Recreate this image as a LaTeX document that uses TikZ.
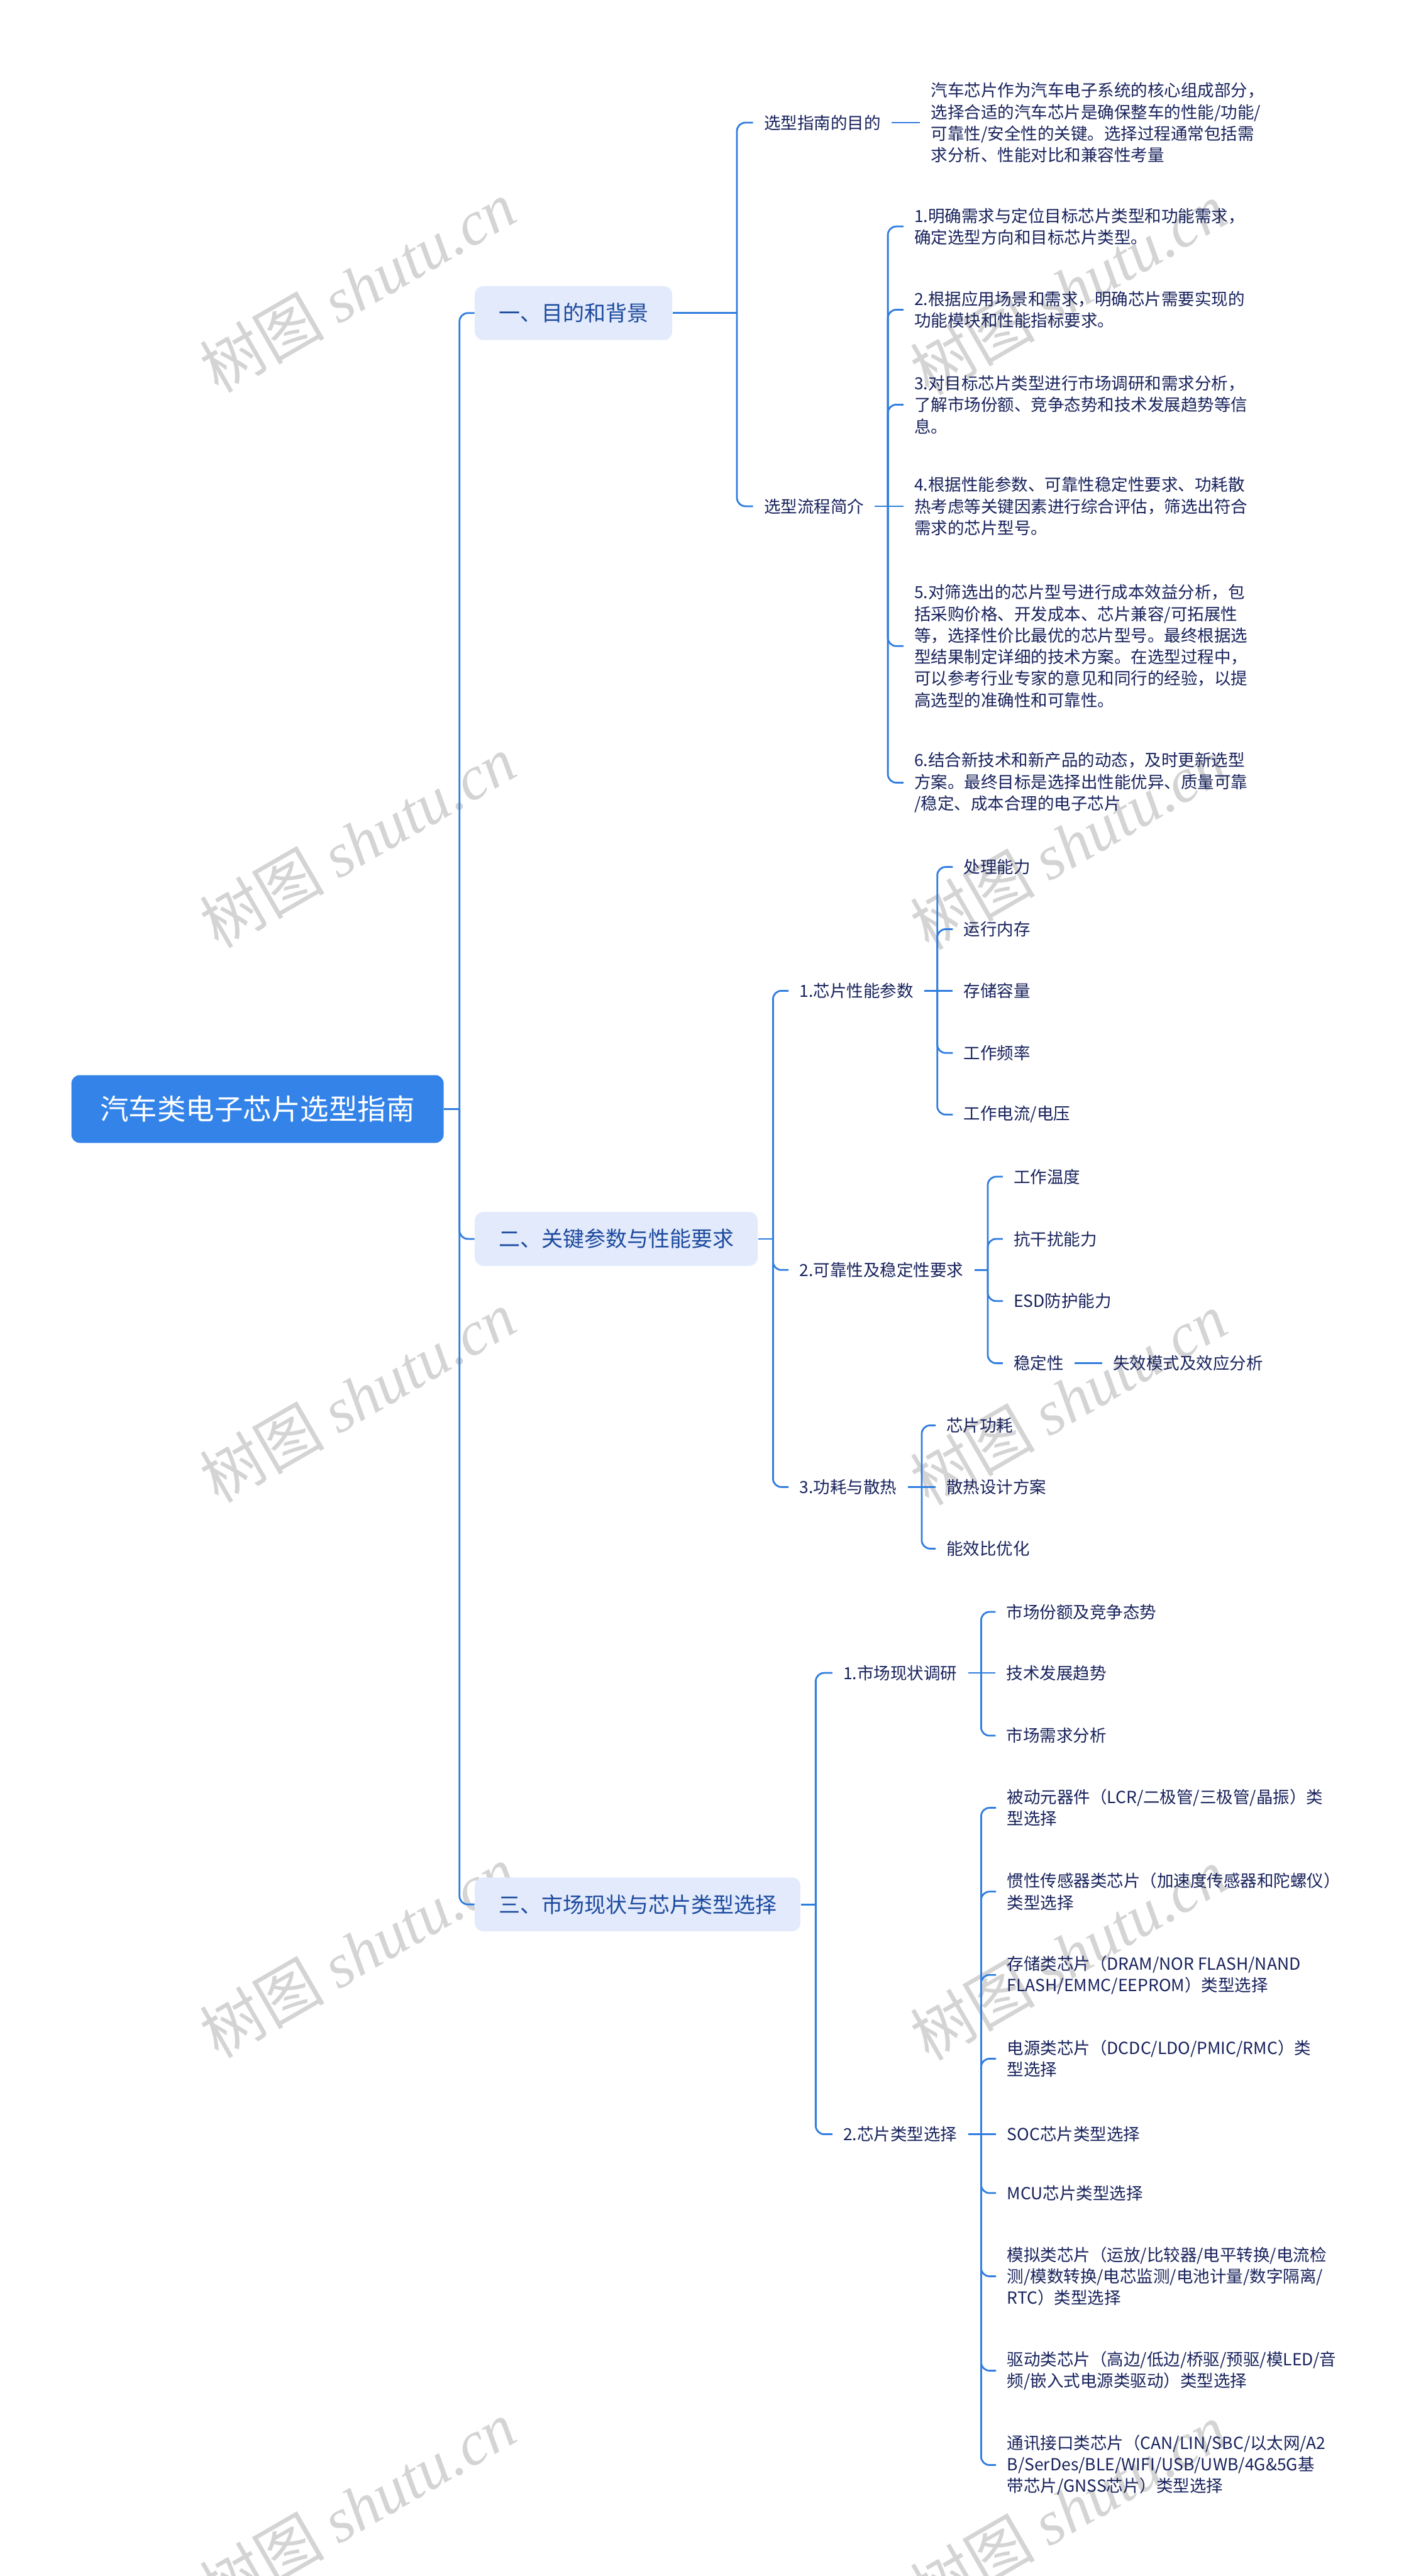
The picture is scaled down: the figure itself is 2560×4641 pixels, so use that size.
\documentclass[tikz,border=0pt]{standalone}
\usepackage{fontspec}
\setmainfont{Noto Sans CJK SC}
\newfontfamily\markserif{Liberation Serif}

\definecolor{linkblue}{RGB}{47,125,223}
\definecolor{rootblue}{RGB}{51,131,233}
\definecolor{secfill}{RGB}{226,234,251}
\definecolor{sectext}{RGB}{28,74,158}
\definecolor{leaftext}{RGB}{24,34,92}
\definecolor{markgray}{RGB}{212,212,212}

\newcommand{\rootfont}{\fontsize{14.65pt}{17pt}\selectfont}
\newcommand{\secfont}{\fontsize{10.95pt}{13pt}\selectfont}
\newcommand{\leaffont}{\fontsize{8.54pt}{11.04pt}\selectfont}
\newcommand{\markfont}{\fontsize{32pt}{36pt}\selectfont}

\begin{document}
\begin{tikzpicture}[
    x=0.01cm, y=-0.01cm,
    root_style/.style={rectangle, rounded corners=0.15cm, fill=rootblue, text=white, font=\rootfont,
        minimum height=1.22cm, inner xsep=0.52cm, anchor=west},
    section_style/.style={rectangle, rounded corners=0.15cm, fill=secfill, text=sectext, font=\secfont,
        minimum height=0.97cm, inner xsep=0.43cm, anchor=west},
    leaf_style/.style={font=\leaffont, text=leaftext, align=left, inner xsep=0.19cm, inner ysep=0pt, anchor=west},
    link_style/.style={draw=linkblue, line width=0.9pt, rounded corners=0.15cm},
    mark_style/.style={text=markgray, font=\markfont, rotate=30}
]
\useasboundingbox[fill=white] (0,0) rectangle (2560,4641);

% watermarks
\foreach \wx/\wy [count=\i] in {644/516,644/1516,644/2516,644/3516,644/4516,1925/520,1925/1520,1925/2520,1925/3520,1925/4520}
    \node[mark_style] (wm\i) at (\wx,\wy) {树图 {\markserif\itshape shutu.cn}};

% root and sections
\node[root_style] (root) at (128,1998) {汽车类电子芯片选型指南};
\node[section_style] (b1) at (855,564) {一、目的和背景};
\node[section_style] (b2) at (855,2232) {二、关键参数与性能要求};
\node[section_style] (b3) at (855,3431) {三、市场现状与芯片类型选择};

\coordinate (rj) at (828,1998);
\draw[link_style] (root.east) -- (rj);
\foreach \c in {b1,b2,b3}
    \draw[link_style] (rj) |- (\c.west);

% section 1
\node[leaf_style] (c11) at (1357,221) {选型指南的目的};
\node[leaf_style] (d111) at (1658,221) {汽车芯片作为汽车电子系统的核心组成部分，\\选择合适的汽车芯片是确保整车的性能/功能/\\可靠性/安全性的关键。选择过程通常包括需\\求分析、性能对比和兼容性考量};
\node[leaf_style] (c12) at (1357,912) {选型流程简介};
\node[leaf_style] (d121) at (1628,408) {1.明确需求与定位目标芯片类型和功能需求，\\确定选型方向和目标芯片类型。};
\node[leaf_style] (d122) at (1628,558) {2.根据应用场景和需求，明确芯片需要实现的\\功能模块和性能指标要求。};
\node[leaf_style] (d123) at (1628,729) {3.对目标芯片类型进行市场调研和需求分析，\\了解市场份额、竞争态势和技术发展趋势等信\\息。};
\node[leaf_style] (d124) at (1628,912) {4.根据性能参数、可靠性稳定性要求、功耗散\\热考虑等关键因素进行综合评估，筛选出符合\\需求的芯片型号。};
\node[leaf_style] (d125) at (1628,1164) {5.对筛选出的芯片型号进行成本效益分析，包\\括采购价格、开发成本、芯片兼容/可拓展性\\等，选择性价比最优的芯片型号。最终根据选\\型结果制定详细的技术方案。在选型过程中，\\可以参考行业专家的意见和同行的经验，以提\\高选型的准确性和可靠性。};
\node[leaf_style] (d126) at (1628,1410) {6.结合新技术和新产品的动态，及时更新选型\\方案。最终目标是选择出性能优异、质量可靠\\/稳定、成本合理的电子芯片};

\coordinate (j1) at (1328,564);
\coordinate (j12) at (1600,912);
\draw[link_style] (b1.east) -- (j1);
\foreach \c in {c11,c12}
    \draw[link_style] (j1) |- (\c.west);
\draw[link_style] (c11.east) -- (d111.west);
\draw[link_style] (c12.east) -- (j12) -- (d124.west);
\foreach \c in {d121,d122,d123,d125,d126}
    \draw[link_style] (j12) |- (\c.west);

% section 2
\node[leaf_style] (c21) at (1421,1785) {1.芯片性能参数};
\node[leaf_style] (c22) at (1421,2288) {2.可靠性及稳定性要求};
\node[leaf_style] (c23) at (1421,2679) {3.功耗与散热};
\node[leaf_style] (e211) at (1717,1562) {处理能力};
\node[leaf_style] (e212) at (1717,1674) {运行内存};
\node[leaf_style] (e213) at (1717,1785) {存储容量};
\node[leaf_style] (e214) at (1717,1897) {工作频率};
\node[leaf_style] (e215) at (1717,2008) {工作电流/电压};
\node[leaf_style] (e221) at (1807,2120) {工作温度};
\node[leaf_style] (e222) at (1807,2232) {抗干扰能力};
\node[leaf_style] (e223) at (1807,2344) {ESD防护能力};
\node[leaf_style] (e224) at (1807,2456) {稳定性};
\node[leaf_style] (f2241) at (1986,2456) {失效模式及效应分析};
\node[leaf_style] (e231) at (1686,2568) {芯片功耗};
\node[leaf_style] (e232) at (1686,2679) {散热设计方案};
\node[leaf_style] (e233) at (1686,2790) {能效比优化};

\coordinate (j2) at (1393,2232);
\coordinate (j21) at (1689,1785);
\coordinate (j22) at (1780,2288);
\coordinate (j23) at (1661,2679);
\draw[link_style] (b2.east) -- (j2);
\foreach \c in {c21,c22,c23}
    \draw[link_style] (j2) |- (\c.west);
\draw[link_style] (c21.east) -- (j21) -- (e213.west);
\foreach \c in {e211,e212,e214,e215}
    \draw[link_style] (j21) |- (\c.west);
\draw[link_style] (c22.east) -- (j22);
\foreach \c in {e221,e222,e223,e224}
    \draw[link_style] (j22) |- (\c.west);
\draw[link_style] (e224.east) -- (f2241.west);
\draw[link_style] (c23.east) -- (j23) -- (e232.west);
\foreach \c in {e231,e233}
    \draw[link_style] (j23) |- (\c.west);

% section 3
\node[leaf_style] (c31) at (1500,3014) {1.市场现状调研};
\node[leaf_style] (c32) at (1500,3845) {2.芯片类型选择};
\node[leaf_style] (e311) at (1794,2904) {市场份额及竞争态势};
\node[leaf_style] (e312) at (1794,3014) {技术发展趋势};
\node[leaf_style] (e313) at (1794,3127) {市场需求分析};
\node[leaf_style] (e321) at (1795,3257) {被动元器件（LCR/二极管/三极管/晶振）类\\型选择};
\node[leaf_style] (e322) at (1795,3408) {惯性传感器类芯片（加速度传感器和陀螺仪）\\类型选择};
\node[leaf_style] (e323) at (1795,3558) {存储类芯片（DRAM/NOR FLASH/NAND\\FLASH/EMMC/EEPROM）类型选择};
\node[leaf_style] (e324) at (1795,3709) {电源类芯片（DCDC/LDO/PMIC/RMC）类\\型选择};
\node[leaf_style] (e325) at (1795,3845) {SOC芯片类型选择};
\node[leaf_style] (e326) at (1795,3951) {MCU芯片类型选择};
\node[leaf_style] (e327) at (1795,4101) {模拟类芯片（运放/比较器/电平转换/电流检\\测/模数转换/电芯监测/电池计量/数字隔离/\\RTC）类型选择};
\node[leaf_style] (e328) at (1795,4271) {驱动类芯片（高边/低边/桥驱/预驱/模LED/音\\频/嵌入式电源类驱动）类型选择};
\node[leaf_style] (e329) at (1795,4441) {通讯接口类芯片（CAN/LIN/SBC/以太网/A2\\B/SerDes/BLE/WIFI/USB/UWB/4G\&5G基\\带芯片/GNSS芯片）类型选择};

\coordinate (j3) at (1470,3431);
\coordinate (j31) at (1768,3014);
\coordinate (j32) at (1768,3845);
\draw[link_style] (b3.east) -- (j3);
\foreach \c in {c31,c32}
    \draw[link_style] (j3) |- (\c.west);
\draw[link_style] (c31.east) -- (j31) -- (e312.west);
\foreach \c in {e311,e313}
    \draw[link_style] (j31) |- (\c.west);
\draw[link_style] (c32.east) -- (j32) -- (e325.west);
\foreach \c in {e321,e322,e323,e324,e326,e327,e328,e329}
    \draw[link_style] (j32) |- (\c.west);

\end{tikzpicture}
\end{document}
